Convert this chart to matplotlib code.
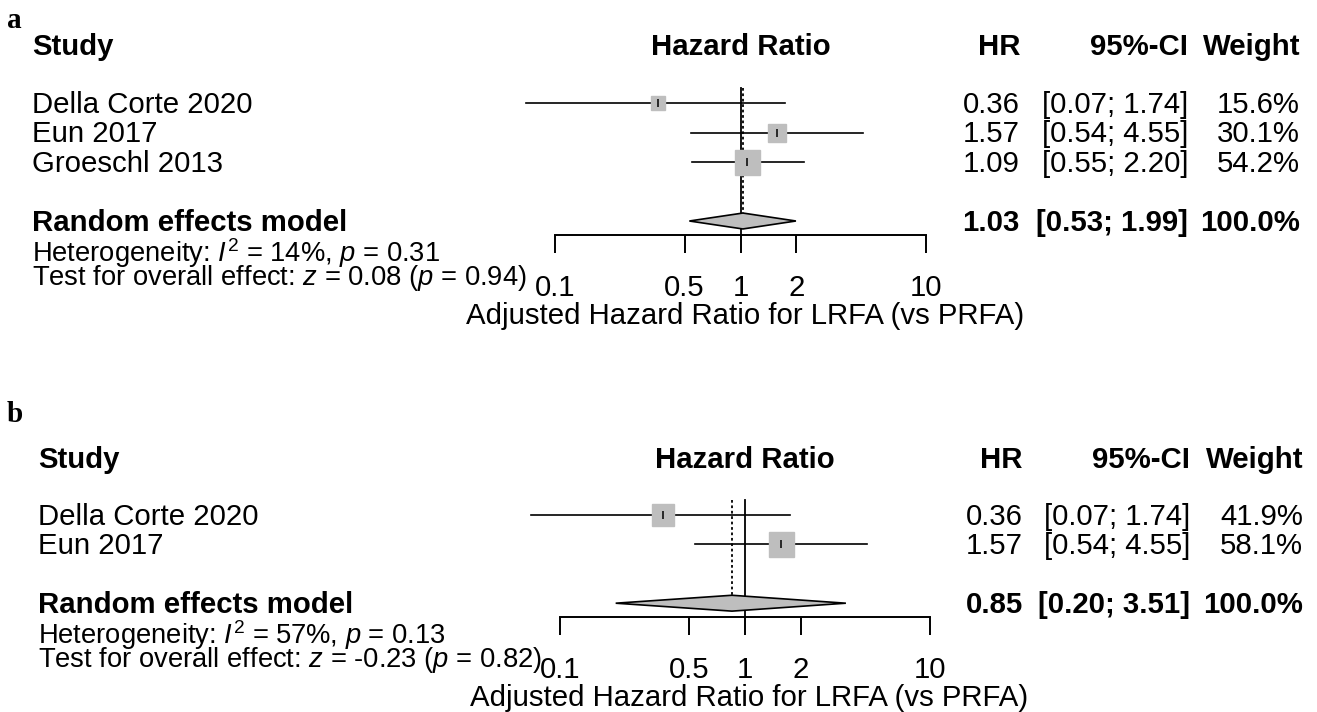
import matplotlib
matplotlib.use('Agg')
import matplotlib.pyplot as plt
import numpy as np

plt.rcParams['font.family'] = ['Liberation Sans', 'DejaVu Sans']
plt.rcParams['mathtext.fontset'] = 'custom'
plt.rcParams['mathtext.rm'] = 'Liberation Sans'
plt.rcParams['mathtext.it'] = 'Liberation Sans:italic'
plt.rcParams['mathtext.bf'] = 'Liberation Sans:bold'

# ---- data ----
a_studies = ['Della Corte 2020', 'Eun 2017', 'Groeschl 2013']
a_hr = [0.36, 1.57, 1.09]
a_lo = [0.07, 0.54, 0.55]
a_hi = [1.74, 4.55, 2.20]
a_weight = [15.6, 30.1, 54.2]
a_pooled = [1.03, 0.53, 1.99]
a_het = r'Heterogeneity: $I^2$ = 14%, $p$ = 0.31'
a_test = r'Test for overall effect: $z$ = 0.08 ($p$ = 0.94)'

b_studies = ['Della Corte 2020', 'Eun 2017']
b_hr = [0.36, 1.57]
b_lo = [0.07, 0.54]
b_hi = [1.74, 4.55]
b_weight = [41.9, 58.1]
b_pooled = [0.85, 0.20, 3.51]
b_het = r'Heterogeneity: $I^2$ = 57%, $p$ = 0.13'
b_test = r'Test for overall effect: $z$ = -0.23 ($p$ = 0.82)'

ticks = [0.1, 0.5, 1, 2, 10]
tick_labels = ['0.1', '0.5', '1', '2', '10']
xlab = 'Adjusted Hazard Ratio for LRFA (vs PRFA)'

W, H = 1317, 712
FS = 21.2      # main text
FS2 = 19.7     # heterogeneity / test lines
GRAY = '#bebebe'

fig = plt.figure(figsize=(W / 100, H / 100), dpi=100)
bg = fig.add_axes([0, 0, 1, 1])
bg.set_xlim(0, W)
bg.set_ylim(H, 0)
bg.axis('off')


def forest(letter, studies, hr, lo, hi, weight, pooled, het, test,
           x0, x1, row0, pitch, txt_left, cols, head_y, letter_xy):
    n = len(studies)
    summ = n + 1
    axis_row = summ + 0.47
    # axes in row units, top row -1, bottom row summ+1
    top_px = row0 - pitch
    bot_px = row0 + (summ + 1) * pitch
    ax_h = bot_px - top_px
    ax = fig.add_axes([x0 / W, 1 - bot_px / H, (x1 - x0) / W, ax_h / H])
    ax.set_xscale('log')
    ax.set_xlim(0.1, 10)
    ax.set_ylim(summ + 1, -1)
    ax.patch.set_alpha(0)
    for s in ['top', 'left', 'right']:
        ax.spines[s].set_visible(False)
    ax.spines['bottom'].set_position(('data', axis_row))
    ax.spines['bottom'].set_linewidth(1.4)
    ax.set_yticks([])
    ax.set_xticks(ticks)
    ax.set_xticklabels(tick_labels)
    ax.minorticks_off()
    ax.tick_params(axis='x', direction='out', length=13, width=1.4,
                   labelsize=FS, pad=15)
    ax.set_xlabel(xlab, fontsize=FS)
    axis_px = row0 + axis_row * pitch
    lab_px = axis_px + 81
    ax.xaxis.set_label_coords(0.512, -(lab_px - bot_px) / ax_h)
    ax.xaxis.label.set_va('center')

    # reference line at 1
    ax.plot([1, 1], [-0.5, axis_row], color='black', lw=1.3, clip_on=False)
    # pooled estimate dotted line
    ax.plot([pooled[0], pooled[0]], [-0.5, summ - 0.27], color='black',
            lw=1.3, ls=(0, (1.5, 1.5)), clip_on=False)

    wmax = max(weight)
    for i in range(n):
        ax.plot([lo[i], hi[i]], [i, i], color='black', lw=1.2, clip_on=False, zorder=2)
        size = 25 * np.sqrt(weight[i] / wmax) * 0.72
        ax.plot(hr[i], i, marker='s', ms=size, color=GRAY, mec=GRAY, ls='none',
                clip_on=False, zorder=3)
        ax.plot(hr[i], i, marker='|', ms=6, color='black', mew=1.1, ls='none',
                clip_on=False, zorder=4)

    est, dlo, dhi = pooled
    ax.fill([dlo, est, dhi, est], [summ, summ - 0.27, summ, summ + 0.27],
            facecolor=GRAY, edgecolor='black', lw=1.2, clip_on=False, zorder=3)

    # text columns
    def ypx(r):
        return row0 + r * pitch + 2

    bg.text(letter_xy[0], letter_xy[1], letter, fontsize=21, fontweight='bold',
            family='Liberation Serif', ha='left', va='center')
    one_px = x0 + (x1 - x0) * 0.5
    bg.text(txt_left, head_y, 'Study', fontsize=FS, fontweight='bold', va='center')
    bg.text(one_px, head_y, 'Hazard Ratio', fontsize=FS, fontweight='bold',
            ha='center', va='center')
    bg.text(cols[0], head_y, 'HR', fontsize=FS, fontweight='bold', ha='right', va='center')
    bg.text(cols[1], head_y, '95%-CI', fontsize=FS, fontweight='bold', ha='right', va='center')
    bg.text(cols[2], head_y, 'Weight', fontsize=FS, fontweight='bold', ha='right', va='center')

    for i in range(n):
        y = ypx(i)
        bg.text(txt_left, y, studies[i], fontsize=FS, va='center')
        bg.text(cols[0], y, f'{hr[i]:.2f}', fontsize=FS, ha='right', va='center')
        bg.text(cols[1], y, f'[{lo[i]:.2f}; {hi[i]:.2f}]', fontsize=FS, ha='right', va='center')
        bg.text(cols[2], y, f'{weight[i]:.1f}%', fontsize=FS, ha='right', va='center')

    y = ypx(summ)
    bg.text(txt_left, y, 'Random effects model', fontsize=FS, fontweight='bold', va='center')
    bg.text(cols[0], y, f'{est:.2f}', fontsize=FS, fontweight='bold', ha='right', va='center')
    bg.text(cols[1], y, f'[{dlo:.2f}; {dhi:.2f}]', fontsize=FS, fontweight='bold',
            ha='right', va='center')
    bg.text(cols[2], y, '100.0%', fontsize=FS, fontweight='bold', ha='right', va='center')
    bg.text(txt_left, y + 30, het, fontsize=FS2, va='center')
    bg.text(txt_left, y + 55, test, fontsize=FS2, va='center')
    return ax


ax_a = forest('a', a_studies, a_hr, a_lo, a_hi, a_weight, a_pooled, a_het, a_test,
              555, 926, 103, 29.5, 32, (1020, 1188, 1300), 47, (7, 20))
ax_b = forest('b', b_studies, b_hr, b_lo, b_hi, b_weight, b_pooled, b_het, b_test,
              560, 930, 515, 29.4, 38, (1023, 1190, 1303), 460, (7, 415))

fig.savefig('out.png', dpi=100)
